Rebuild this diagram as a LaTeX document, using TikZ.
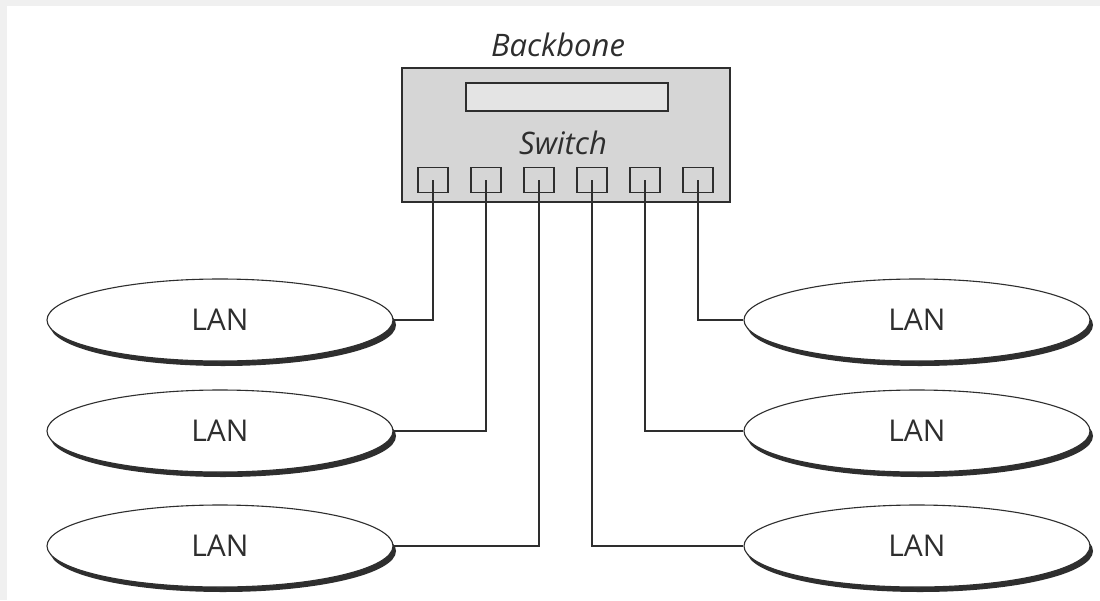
\documentclass[tikz,border=0pt]{standalone}
\usepackage{fontspec}
\setmainfont{Open Sans}
\usetikzlibrary{shapes.geometric,shadows}
\definecolor{ink}{HTML}{2E2E2E}
\definecolor{frame}{HTML}{F0F0F0}
\definecolor{boxgray}{HTML}{D6D6D6}
\definecolor{panel}{HTML}{E4E4E4}
\tikzset{
  lan/.style={ellipse, draw=ink, line width=1.1pt, fill=white,
    minimum width=346pt, minimum height=82pt, inner sep=0pt,
    font=\fontsize{30}{32}\selectfont, text=ink,
    drop shadow={shadow xshift=3pt, shadow yshift=-5pt, fill=ink, opacity=1}},
  port/.style={rectangle, draw=ink, line width=1.3pt, fill=boxgray,
    minimum width=30pt, minimum height=25pt, inner sep=0pt},
  wire/.style={draw=ink, line width=1.1pt},
  label/.style={font=\fontsize{31}{33}\itshape\selectfont, text=ink, inner sep=0pt}
}
\begin{document}
\begin{tikzpicture}[x=1pt, y=-1pt]
  \useasboundingbox (0,0) rectangle (1100,600);
  % page margin strips
  \fill[frame] (0,0) rectangle (1100,600);
  \fill[white] (7,6) rectangle (1100,600);

  % backbone switch
  \node[label] (bbtitle) at (558,45) {Backbone};
  \node[rectangle, draw=ink, line width=1.5pt, fill=boxgray, minimum width=328pt,
        minimum height=134pt, inner sep=0pt] (switch) at (566,135) {};
  \node[rectangle, draw=ink, line width=1.5pt, fill=panel, minimum width=202pt,
        minimum height=28pt, inner sep=0pt] (display) at (567,97) {};
  \node[label] (swlabel) at (563,143) {Switch};
  \foreach \i/\x in {1/433,2/486,3/539,4/592,5/645,6/698}
    \node[port] (p\i) at (\x,180) {};

  % LAN segments
  \node[lan] (l1) at (220,320) {LAN};
  \node[lan] (l2) at (220,431) {LAN};
  \node[lan] (l3) at (220,546) {LAN};
  \node[lan] (r1) at (917,320) {LAN};
  \node[lan] (r2) at (917,431) {LAN};
  \node[lan] (r3) at (917,546) {LAN};

  % links from ports to LANs
  \draw[wire] (p1.center) |- (l1.east);
  \draw[wire] (p2.center) |- (l2.east);
  \draw[wire] (p3.center) |- (l3.east);
  \draw[wire] (p4.center) |- (r3.west);
  \draw[wire] (p5.center) |- (r2.west);
  \draw[wire] (p6.center) |- (r1.west);
\end{tikzpicture}
\end{document}
